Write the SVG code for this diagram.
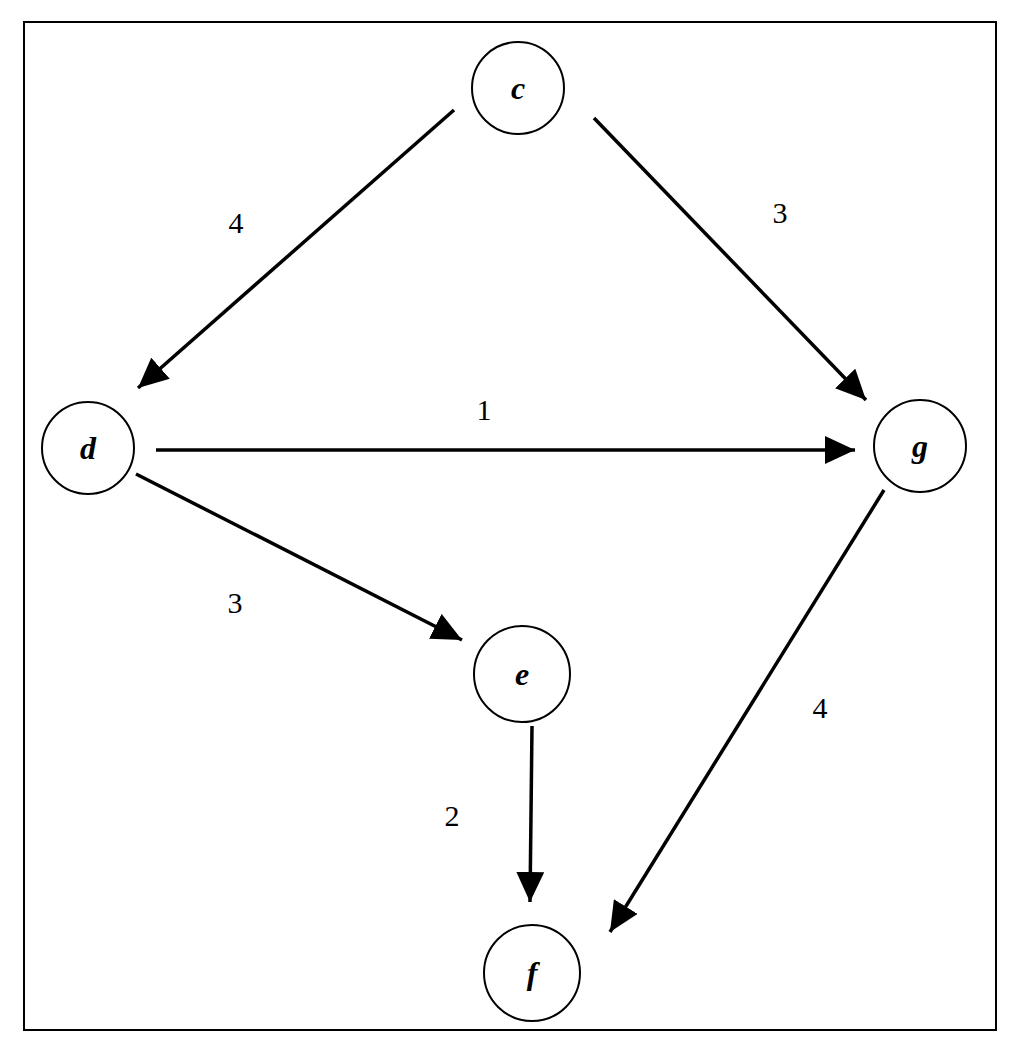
<svg xmlns="http://www.w3.org/2000/svg" width="1024" height="1055" viewBox="0 0 1024 1055">
<style>
.n{fill:#fff;stroke:#000;stroke-width:2}
.t{font-family:"Liberation Serif",serif;font-style:italic;font-weight:bold;font-size:32px;text-anchor:middle}
.w{font-family:"Liberation Serif",serif;font-size:30px;text-anchor:middle}
.e{stroke:#000;stroke-width:3.5;fill:none;marker-end:url(#a)}
</style>
<defs><marker id="a" markerUnits="userSpaceOnUse" markerWidth="32" markerHeight="28" refX="30" refY="14" orient="auto"><path d="M0,0L30,14L0,28Z"/></marker></defs>
<rect x="24" y="22" width="972" height="1008" fill="#fff" stroke="#000" stroke-width="2"/>
<g id="edges">
<line class="e" x1="454" y1="110" x2="138" y2="388"/>
<line class="e" x1="594" y1="118" x2="866" y2="400"/>
<line class="e" x1="156" y1="450" x2="855" y2="450"/>
<line class="e" x1="136" y1="474" x2="462" y2="640"/>
<line class="e" x1="532" y1="726" x2="530" y2="902"/>
<line class="e" x1="884" y1="490" x2="610" y2="932"/>
<text class="w" x="236" y="233">4</text>
<text class="w" x="780" y="223">3</text>
<text class="w" x="484" y="420">1</text>
<text class="w" x="235" y="613">3</text>
<text class="w" x="452" y="826">2</text>
<text class="w" x="820" y="718">4</text>
</g>
<g id="c"><circle class="n" cx="518" cy="88" r="46"/><text class="t" x="518" y="99">c</text></g>
<g id="d"><circle class="n" cx="88" cy="448" r="46"/><text class="t" x="88" y="459">d</text></g>
<g id="g"><circle class="n" cx="920" cy="446" r="46"/><text class="t" x="920" y="457">g</text></g>
<g id="e"><circle class="n" cx="522" cy="674" r="48"/><text class="t" x="522" y="685">e</text></g>
<g id="f"><circle class="n" cx="532" cy="973" r="48"/><text class="t" x="532" y="984">f</text></g>
</svg>
